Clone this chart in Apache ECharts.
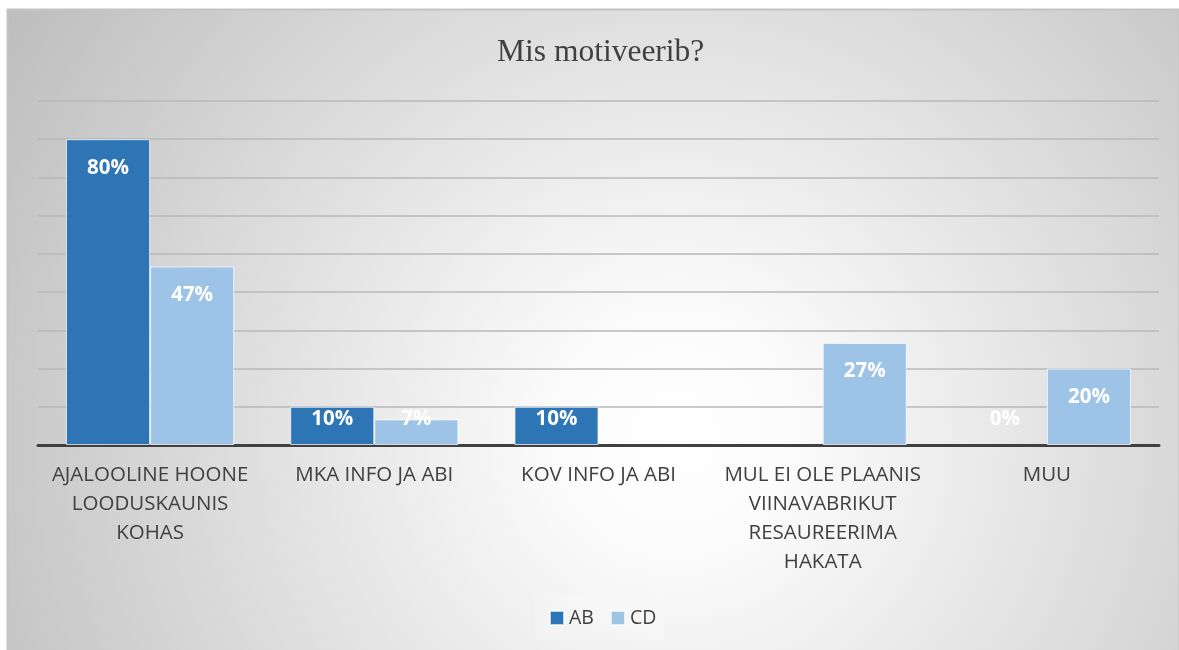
<!DOCTYPE html>
<html>
<head>
<meta charset="utf-8">
<script src="https://cdn.jsdelivr.net/npm/echarts@6/dist/echarts.min.js"></script>
<style>
  html, body { margin: 0; padding: 0; background: #fff; }
  #chart { width: 1179px; height: 650px; }
</style>
</head>
<body>
<div id="chart"></div>
<script>
// andmed
const categories = [
  'AJALOOLINE HOONE\nLOODUSKAUNIS\nKOHAS',
  'MKA INFO JA ABI',
  'KOV INFO JA ABI',
  'MUL EI OLE PLAANIS\nVIINAVABRIKUT\nRESAUREERIMA\nHAKATA',
  'MUU'
]
const seriesNames = ['AB', 'CD']
const valuesAB = [0.8, 0.1, 0.1, null, 0]
const valuesCD = [0.467, 0.067, null, 0.267, 0.2]
const seriesColors = ['#2E75B6', '#9DC3E6']

const labelFont = '"Open Sans", "Noto Sans", sans-serif'

// väikeste tulpade silt asetub alt, suurtel ülevalt sisse
function buildData(values) {
  return values.map((v) => {
    if (v === null) return null
    const small = v < 0.15
    const item = {
      value: v,
      label: small
        ? { position: 'insideBottom', distance: 15 }
        : { position: 'insideTop', distance: 18 }
    }
    // nulltulbal pole äärejoont
    if (v === 0) item.itemStyle = { borderWidth: 0 }
    return item
  })
}

const myChart = echarts.init(document.getElementById('chart'))

const barLabel = {
  show: true,
  color: '#ffffff',
  fontFamily: labelFont,
  fontSize: 20.5,
  fontWeight: 'bold',
  formatter: (p) => Math.round(p.value * 100) + '%'
}

const option = {
  backgroundColor: '#ffffff',
  graphic: [{
    type: 'rect',
    z: -100,
    silent: true,
    shape: { x: 7.5, y: 9.5, width: 1172, height: 642 },
    style: {
      fill: {
        type: 'radial',
        x: 0.57,
        y: 0.66,
        r: 1.25,
        colorStops: [
          { offset: 0, color: '#ffffff' },
          { offset: 0.15, color: '#fbfbfb' },
          { offset: 1, color: '#bcbcbc' }
        ]
      },
      stroke: '#c4c4c4',
      lineWidth: 2
    }
  }],
  title: {
    text: 'Mis motiveerib?',
    left: 492,
    top: 32,
    textStyle: {
      fontFamily: '"Liberation Serif", "DejaVu Serif", serif',
      fontSize: 31.5,
      fontWeight: 'normal',
      color: '#404040'
    }
  },
  legend: {
    data: seriesNames,
    left: 535,
    top: 596,
    itemWidth: 14,
    itemHeight: 14,
    itemGap: 16,
    padding: [12, 8, 12, 14],
    backgroundColor: 'rgba(255,255,255,0.2)',
    icon: 'rect',
    textStyle: {
      fontFamily: labelFont,
      fontSize: 19.5,
      color: '#404040'
    }
  },
  grid: {
    left: 38,
    right: 20,
    top: 101,
    bottom: 205
  },
  xAxis: {
    type: 'category',
    data: categories,
    axisLine: {
      lineStyle: { color: '#404040', width: 3 }
    },
    axisTick: { show: false },
    axisLabel: {
      interval: 0,
      margin: 16,
      fontFamily: labelFont,
      fontSize: 20.5,
      lineHeight: 29,
      color: '#404040'
    }
  },
  yAxis: {
    type: 'value',
    min: 0,
    max: 0.9,
    interval: 0.1,
    axisLabel: { show: false },
    axisLine: { show: false },
    axisTick: { show: false },
    splitLine: {
      lineStyle: { color: '#b8b8b8', width: 1.5 }
    }
  },
  series: [{
    name: seriesNames[0],
    type: 'bar',
    data: buildData(valuesAB),
    barWidth: '37.5%',
    barGap: '0%',
    itemStyle: {
      color: seriesColors[0],
      borderColor: 'rgba(255,255,255,0.7)',
      borderWidth: 1
    },
    label: barLabel
  }, {
    name: seriesNames[1],
    type: 'bar',
    data: buildData(valuesCD),
    barWidth: '37.5%',
    barGap: '0%',
    itemStyle: {
      color: seriesColors[1],
      borderColor: 'rgba(255,255,255,0.7)',
      borderWidth: 1
    },
    label: barLabel
  }]
}

myChart.setOption(option)
</script>
</body>
</html>
